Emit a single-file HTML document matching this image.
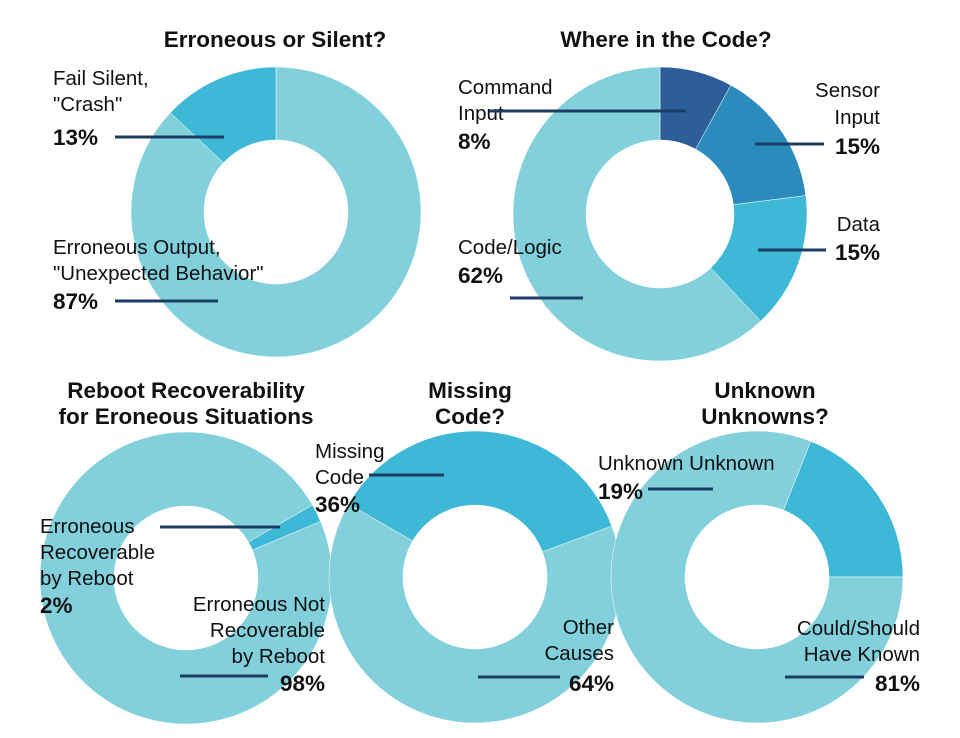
<!DOCTYPE html>
<html><head><meta charset="utf-8"><style>
body{margin:0;background:#fff;width:960px;height:733px;overflow:hidden}
svg text{font-family:"Liberation Sans",Arial,sans-serif;fill:#111}
.t{font-weight:bold;font-size:22.5px;text-anchor:middle}
.l{font-size:20.5px}.b{font-size:22.5px;font-weight:bold}.r{text-anchor:end}
</style></head><body>
<svg id="c" width="960" height="733" viewBox="0 0 960 733">
<g id="slices"></g>
<g>
<text class="t" x="275" y="47">Erroneous or Silent?</text>
<text class="t" x="666" y="47">Where in the Code?</text>
<text class="t" x="186" y="398">Reboot Recoverability</text>
<text class="t" x="186" y="424">for Eroneous Situations</text>
<text class="t" x="470" y="398">Missing</text>
<text class="t" x="470" y="424">Code?</text>
<text class="t" x="765" y="398">Unknown</text>
<text class="t" x="765" y="424">Unknowns?</text>
</g>
<g>
<text class="l" x="53" y="85">Fail Silent,</text><text class="l" x="53" y="111">"Crash"</text><text class="b" x="53" y="145">13%</text>
<text class="l" x="53" y="254">Erroneous Output,</text><text class="l" x="53" y="280">"Unexpected Behavior"</text><text class="b" x="53" y="309">87%</text>
<text class="l" x="458" y="94">Command</text><text class="l" x="458" y="120">Input</text><text class="b" x="458" y="149">8%</text>
<text class="l r" x="880" y="97">Sensor</text><text class="l r" x="880" y="124">Input</text><text class="b r" x="880" y="154">15%</text>
<text class="l r" x="880" y="231">Data</text><text class="b r" x="880" y="260">15%</text>
<text class="l" x="458" y="254">Code/Logic</text><text class="b" x="458" y="283">62%</text>
<text class="l" x="40" y="533">Erroneous</text><text class="l" x="40" y="559">Recoverable</text><text class="l" x="40" y="585">by Reboot</text><text class="b" x="40" y="613">2%</text>
<text class="l r" x="325" y="611">Erroneous Not</text><text class="l r" x="325" y="637">Recoverable</text><text class="l r" x="325" y="663">by Reboot</text><text class="b r" x="325" y="691">98%</text>
<text class="l" x="315" y="458">Missing</text><text class="l" x="315" y="484">Code</text><text class="b" x="315" y="512">36%</text>
<text class="l r" x="614" y="634">Other</text><text class="l r" x="614" y="660">Causes</text><text class="b r" x="614" y="691">64%</text>
<text class="l" x="598" y="470">Unknown Unknown</text><text class="b" x="598" y="499">19%</text>
<text class="l r" x="920" y="635">Could/Should</text><text class="l r" x="920" y="661">Have Known</text><text class="b r" x="920" y="691">81%</text>
</g>
<g stroke="#1c3d63" stroke-width="3">
<line x1="115" y1="137" x2="224" y2="137"/><line x1="115" y1="301" x2="218" y2="301"/>
<line x1="489" y1="111" x2="686" y2="111"/><line x1="755" y1="144" x2="824" y2="144"/>
<line x1="758" y1="250" x2="826" y2="250"/><line x1="510" y1="298" x2="583" y2="298"/>
<line x1="160" y1="527" x2="280" y2="527"/><line x1="180" y1="676" x2="268" y2="676"/>
<line x1="369" y1="475" x2="444" y2="475"/><line x1="478" y1="677" x2="560" y2="677"/>
<line x1="648" y1="489" x2="713" y2="489"/><line x1="785" y1="677" x2="864" y2="677"/>
</g>
</svg>
<script>
const chart1Values=[87,13];
const chart2Values=[8,15,15,62];
const chart3Values=[2,98];
const chart4Values=[36,64];
const chart5Values=[19,81];
const charts=[
 {name:'erroneous-or-silent',cx:276,cy:212,ro:145,ri:72,start:0,vals:chart1Values,cols:['#82d0dc','#3db8d6'],names:['erroneous-output','fail-silent']},
 {name:'where-in-code',cx:660,cy:214,ro:147,ri:74,start:0,vals:chart2Values,cols:['#2c5f97','#2b8bbd','#3db8d6','#82d0dc'],names:['command-input','sensor-input','data','code-logic']},
 {name:'reboot-recoverability',cx:186,cy:578,ro:146,ri:72,start:60,vals:chart3Values,cols:['#3db8d6','#82d0dc'],names:['recoverable','not-recoverable']},
 {name:'missing-code',cx:475,cy:577,ro:146,ri:72,start:-60,vals:chart4Values,cols:['#3db8d6','#82d0dc'],names:['missing-code','other-causes']},
 {name:'unknown-unknowns',cx:757,cy:577,ro:146,ri:72,start:21.6,vals:chart5Values,cols:['#3db8d6','#82d0dc'],names:['unknown-unknown','could-should-have-known']}
];
const g=document.getElementById('slices');
function pt(cx,cy,r,a){const t=(a-90)*Math.PI/180;return [cx+r*Math.cos(t),cy+r*Math.sin(t)];}
charts.forEach(c=>{
 const tot=c.vals.reduce((a,b)=>a+b,0);
 let a=c.start;
 c.vals.forEach((v,i)=>{
  const span=v/tot*360, a2=a+span;
  const large=span>180?1:0;
  const [x1,y1]=pt(c.cx,c.cy,c.ro,a),[x2,y2]=pt(c.cx,c.cy,c.ro,a2);
  const [x3,y3]=pt(c.cx,c.cy,c.ri,a2),[x4,y4]=pt(c.cx,c.cy,c.ri,a);
  const p=document.createElementNS('http://www.w3.org/2000/svg','path');
  p.setAttribute('d',`M${x1},${y1}A${c.ro},${c.ro} 0 ${large} 1 ${x2},${y2}L${x3},${y3}A${c.ri},${c.ri} 0 ${large} 0 ${x4},${y4}Z`);
  p.setAttribute('fill',c.cols[i]);
  p.setAttribute('stroke','#fff');p.setAttribute('stroke-width','0.5');
  
  
  g.appendChild(p);
  a=a2;
 });
});
</script>
</body></html>
